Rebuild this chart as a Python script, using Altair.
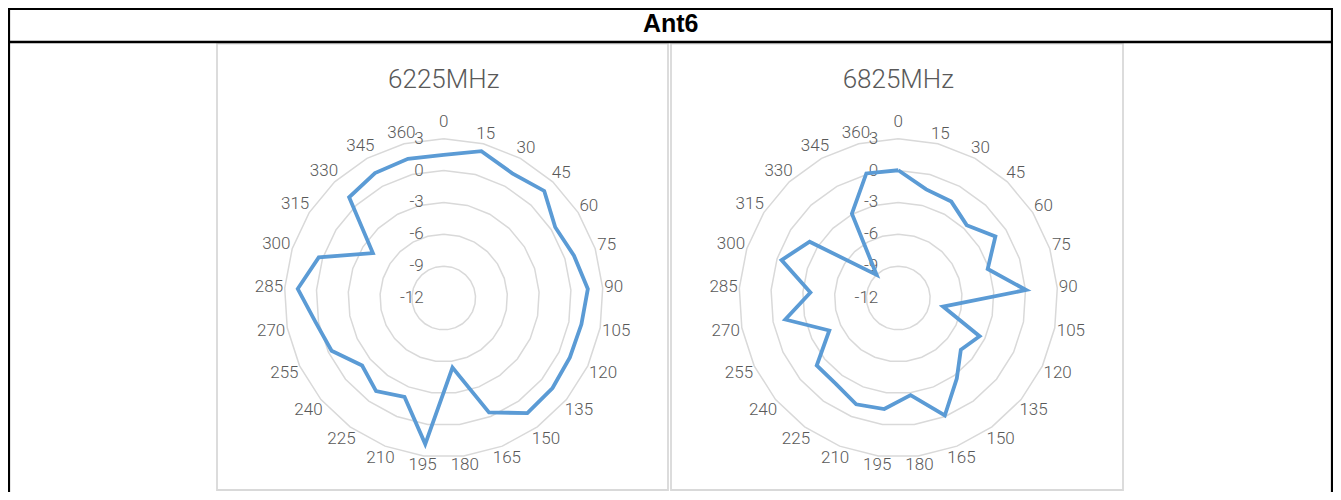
import altair as alt
import pandas as pd

# ---------------- data ----------------
HEADER = "Ant6"
PANELS = ["6225MHz", "6825MHz"]
ANGLE_LABELS = ["0", "15", "30", "45", "60", "75", "90", "105", "120", "135",
                "150", "165", "180", "195", "210", "225", "240", "255", "270",
                "285", "300", "315", "330", "345", "360"]
GAIN_6225 = [1.47, 2.27, 1.4, 1.83, 0.44, 0.9, 1.6, 1.2, 1.13, 1.3, 1.4, -0.42,
             -5.4, 1.86, -1.98, -1.17, -2.03, -0.33, 0.27, 1.77, 0.37, -4.1,
             1.01, 1.43, 1.53]
GAIN_6825 = [0.03, -1.44, -1.64, -2.59, -1.17, -3.15, 0.05, -7.71, -3.54, -4.36,
             -2.63, -0.1, -2.78, -1.46, -1.23, -2.0, -2.03, -4.82, -1.17, -3.71,
             -0.44, -2.11, -9.02, -2.93, 0.11]
RADIAL_TICKS = [3, 0, -3, -6, -9, -12]

# ---------------- layout ----------------
W, H = 1325, 484
CENTER_X = [435.7, 890.3]
CENTER_Y = 290
RADIUS = 159.3
R_MIN, R_MAX = -12, 3
N = len(ANGLE_LABELS)
FONT = "Roboto"
GRAY_TXT = "#595959"
GRID = "#d9d9d9"
BLUE = "#5b9bd5"

series = pd.DataFrame([
    {"p": p, "idx": i, "value": vals[i % N]}
    for p, vals in enumerate([GAIN_6225, GAIN_6825]) for i in range(N + 1)
])
rings = pd.DataFrame([
    {"p": p, "ring": v, "idx": i, "value": v}
    for p in range(len(PANELS)) for v in RADIAL_TICKS if v > R_MIN
    for i in range(N + 1)
])
cats = pd.DataFrame([
    {"p": p, "idx": i, "label": lab}
    for p in range(len(PANELS)) for i, lab in enumerate(ANGLE_LABELS)
])
ticks = pd.DataFrame([
    {"p": p, "value": v, "label": str(v)}
    for p in range(len(PANELS)) for v in RADIAL_TICKS
])
titles = pd.DataFrame([{"p": p, "label": t} for p, t in enumerate(PANELS)])
one = pd.DataFrame({"k": [0]})

X = alt.X("px:Q", scale=alt.Scale(domain=[0, W], nice=False, zero=False), axis=None)
Y = alt.Y("py:Q", scale=alt.Scale(domain=[0, H], nice=False, zero=False, reverse=True), axis=None)


def polar(ch):
    return ch.transform_calculate(
        cx=f"{CENTER_X[0]} + datum.p * {CENTER_X[1] - CENTER_X[0]}"
    ).transform_calculate(
        theta=f"datum.idx * 2 * PI / {N}"
    ).transform_calculate(
        r=f"(datum.value - ({R_MIN})) / {R_MAX - R_MIN} * {RADIUS}"
    ).transform_calculate(
        px="datum.cx + datum.r * sin(datum.theta)",
    ).transform_calculate(
        py=f"{CENTER_Y} - datum.r * cos(datum.theta)",
    )


# frame
outer = alt.Chart(one).mark_rect(fillOpacity=0, stroke="black", strokeWidth=2.2).encode(
    x=alt.value(1), x2=alt.value(W - 1), y=alt.value(1), y2=alt.value(H + 30))
header_line = alt.Chart(one).mark_rule(color="black", strokeWidth=2.4).encode(
    x=alt.value(0), x2=alt.value(W), y=alt.value(34))
header = alt.Chart(one).mark_text(font="Liberation Sans", fontWeight="bold",
                                   fontSize=25, color="black").encode(
    x=alt.value(662.7), y=alt.value(15.5), text=alt.value(HEADER))
panel_l = alt.Chart(one).mark_rect(fillOpacity=0, stroke=GRID, strokeWidth=1.8).encode(
    x=alt.value(209), x2=alt.value(660), y=alt.value(35.5), y2=alt.value(482))
panel_r = alt.Chart(one).mark_rect(fillOpacity=0, stroke=GRID, strokeWidth=1.8).encode(
    x=alt.value(663), x2=alt.value(1115), y=alt.value(35.5), y2=alt.value(482))

# rings
ring_layer = polar(alt.Chart(rings)).mark_line(color=GRID, strokeWidth=1.5).encode(
    x=X, y=Y, detail=["p:N", "ring:N"], order="idx:Q")

# category labels
cat_layer = alt.Chart(cats).transform_calculate(
    cx=f"{CENTER_X[0]} + datum.p * {CENTER_X[1] - CENTER_X[0]}",
).transform_calculate(
    theta=f"datum.idx * 2 * PI / {N}"
).transform_calculate(
    r=f"{RADIUS} + 1 + length(datum.label) * 4.8 * abs(sin(datum.theta)) + 6.5 * abs(cos(datum.theta)) + (datum.idx == 0 ? 9 : 0)"
).transform_calculate(
    px="datum.cx + datum.r * sin(datum.theta)"
).transform_calculate(
    py=f"{CENTER_Y} - datum.r * cos(datum.theta)"
).mark_text(font=FONT, fontWeight=300, fontSize=17, color=GRAY_TXT,
            align="center", baseline="middle").encode(x=X, y=Y, text="label:N")

# radial tick labels
tick_layer = alt.Chart(ticks).transform_calculate(
    cx=f"{CENTER_X[0]} + datum.p * {CENTER_X[1] - CENTER_X[0]}",
).transform_calculate(
    r=f"(datum.value - ({R_MIN})) / {R_MAX - R_MIN} * {RADIUS}"
).transform_calculate(
    px="datum.cx - 20"
).transform_calculate(
    py=f"{CENTER_Y} - datum.r"
).mark_text(font=FONT, fontWeight=300, fontSize=17, color=GRAY_TXT,
            align="right", baseline="middle").encode(x=X, y=Y, text="label:N")

# panel titles
title_layer = alt.Chart(titles).transform_calculate(
    px=f"{CENTER_X[0]} + datum.p * {CENTER_X[1] - CENTER_X[0]}",
    py="72",
).mark_text(font=FONT, fontWeight=300, fontSize=26, color=GRAY_TXT,
            align="center", baseline="middle").encode(x=X, y=Y, text="label:N")

# data series
line_layer = polar(alt.Chart(series)).mark_line(color=BLUE, strokeWidth=3.8).encode(
    x=X, y=Y, detail="p:N", order="idx:Q")

chart = alt.layer(
    panel_l, panel_r, ring_layer, tick_layer, cat_layer, title_layer, line_layer,
    outer, header_line, header,
).properties(
    width=W, height=H, padding=0,
    autosize=alt.AutoSizeParams(type="none"),
    background="white",
).configure_view(stroke=None)

chart.save("out.html", embed_options={"renderer": "svg", "actions": False})
